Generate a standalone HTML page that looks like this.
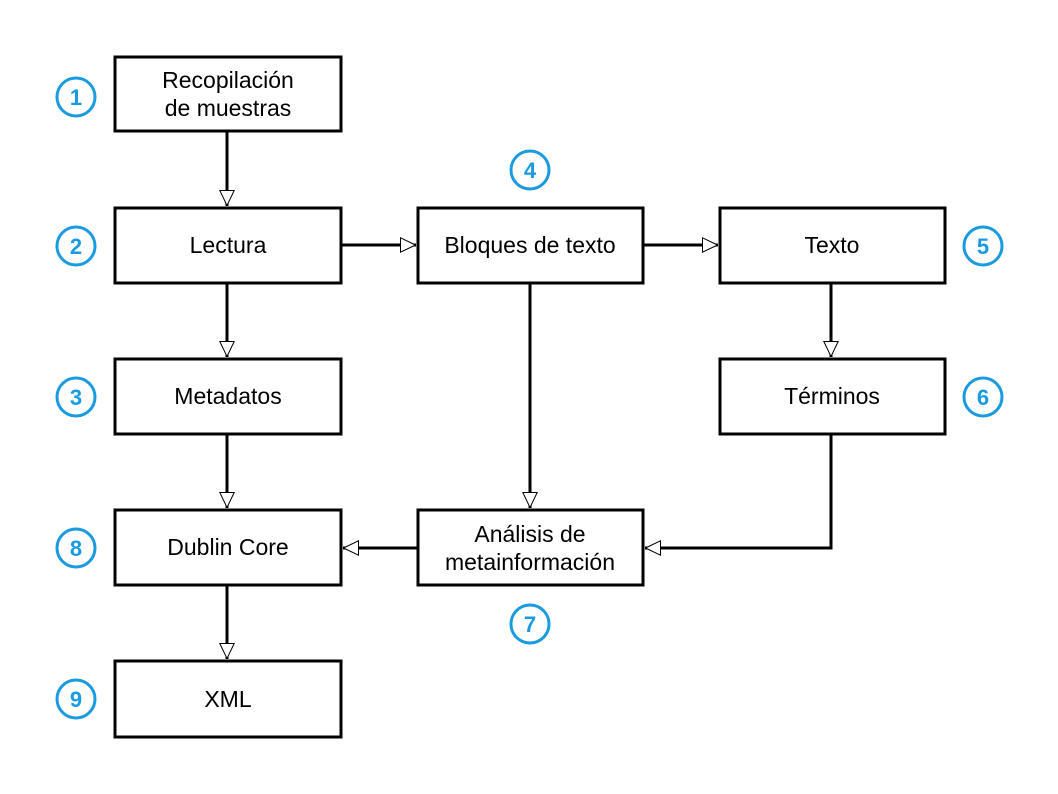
<!DOCTYPE html>
<html><head><meta charset="utf-8"><style>html,body{margin:0;padding:0;background:#fff}svg{display:block}</style></head>
<body>
<svg width="1058" height="794" viewBox="0 0 1058 794" xmlns="http://www.w3.org/2000/svg">
<defs>
<marker id="a" viewBox="0 0 16 16" refX="16" refY="8" markerWidth="16" markerHeight="16" markerUnits="userSpaceOnUse" orient="auto">
<path d="M0.5,0.8 L15.5,8 L0.5,15.2 Z" fill="#fff" stroke="#000" stroke-width="1"/>
</marker>
</defs>
<g fill="#fff" stroke="#000" stroke-width="3">
<rect x="115" y="57" width="226" height="74"/>
<rect x="115" y="208" width="226" height="75"/>
<rect x="418" y="208" width="225" height="75"/>
<rect x="720" y="208" width="225" height="75"/>
<rect x="115" y="359" width="226" height="75"/>
<rect x="720" y="359" width="225" height="75"/>
<rect x="115" y="510" width="226" height="75"/>
<rect x="418" y="510" width="225" height="75"/>
<rect x="115" y="661" width="226" height="76"/>
</g>
<g fill="none" stroke="#000" stroke-width="3" marker-end="url(#a)">
<path d="M227,131 V206"/>
<path d="M227,283 V357"/>
<path d="M227,434 V508"/>
<path d="M227,585 V659"/>
<path d="M341,245 H416"/>
<path d="M643,245 H718"/>
<path d="M831,283 V357"/>
<path d="M530,283 V508"/>
<path d="M418,548 H343"/>
<path d="M831,434 V548 H645"/>
</g>
<g font-family="Liberation Sans, sans-serif" font-size="23" text-anchor="middle" fill="#000">
<text x="228" y="88">Recopilación</text>
<text x="228" y="116">de muestras</text>
<text x="228" y="253">Lectura</text>
<text x="530" y="253">Bloques de texto</text>
<text x="832" y="253">Texto</text>
<text x="228" y="404">Metadatos</text>
<text x="832" y="404">Términos</text>
<text x="228" y="555">Dublin Core</text>
<text x="530" y="542">Análisis de</text>
<text x="530" y="570">metainformación</text>
<text x="228" y="707">XML</text>
</g>
<g fill="none" stroke="#1a9be0" stroke-width="3">
<circle cx="76" cy="97" r="19"/>
<circle cx="76" cy="246" r="19"/>
<circle cx="76" cy="397" r="19"/>
<circle cx="76" cy="548" r="19"/>
<circle cx="76" cy="699" r="19"/>
<circle cx="530" cy="170" r="19"/>
<circle cx="530" cy="624" r="19"/>
<circle cx="983" cy="246" r="19"/>
<circle cx="983" cy="397" r="19"/>
</g>
<g font-family="Liberation Sans, sans-serif" font-size="22" font-weight="bold" text-anchor="middle" fill="#1a9be0">
<text x="76" y="105">1</text>
<text x="76" y="254">2</text>
<text x="76" y="405">3</text>
<text x="76" y="556">8</text>
<text x="76" y="707">9</text>
<text x="530" y="178">4</text>
<text x="530" y="632">7</text>
<text x="983" y="254">5</text>
<text x="983" y="405">6</text>
</g>
</svg>
</body></html>
